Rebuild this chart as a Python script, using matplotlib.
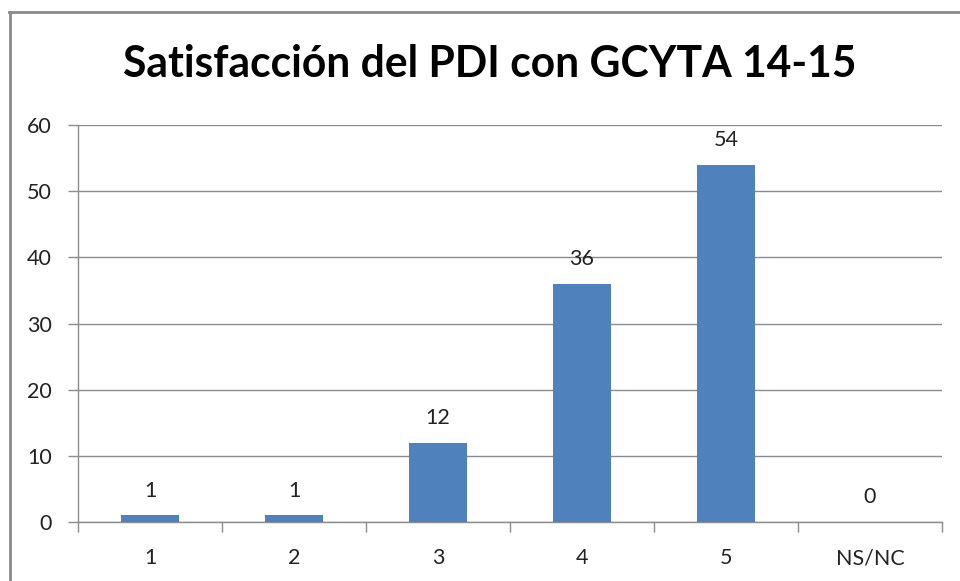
import matplotlib
matplotlib.use("Agg")
import matplotlib.pyplot as plt
from matplotlib.lines import Line2D

categories = ["1", "2", "3", "4", "5", "NS/NC"]
values = [1, 1, 12, 36, 54, 0]
y_ticks = [0, 10, 20, 30, 40, 50, 60]

plt.rcParams["font.family"] = ["Lato", "DejaVu Sans"]

fig = plt.figure(figsize=(9.6, 5.81), dpi=100)
ax = fig.add_axes([78 / 960, 1 - 522 / 581, 864 / 960, 397 / 581])

x = list(range(len(categories)))
bars = ax.bar(x, values, width=0.4, color="#4F81BD", zorder=3)
for xi, v in zip(x, values):
    ax.text(xi, v + 2.2, str(v), ha="center", va="bottom", fontsize=15.5, color="#222222")

ax.set_xlim(-0.5, len(categories) - 0.5)
ax.set_ylim(0, 60)
ax.set_yticks(y_ticks)
ax.yaxis.grid(True, color="#8c8c8c", linewidth=1.0, zorder=0)
ax.set_axisbelow(True)

# category boundaries carry the x tick marks
ax.set_xticks([i - 0.5 for i in range(len(categories) + 1)])
ax.set_xticklabels([])
ax.set_xticks(x, minor=True)
ax.set_xticklabels(categories, minor=True, fontsize=15.5, color="#222222")
ax.tick_params(axis="x", which="major", length=7, color="#8c8c8c", width=1)
ax.tick_params(axis="x", which="minor", length=0, pad=19)
ax.tick_params(axis="y", length=7, color="#8c8c8c", width=1, labelsize=15.5,
               labelcolor="#222222", pad=12)

for side in ("top", "right"):
    ax.spines[side].set_visible(False)
for side in ("left", "bottom"):
    ax.spines[side].set_color("#8c8c8c")
    ax.spines[side].set_linewidth(1.0)

fig.text(490 / 960, 1 - 64 / 581, "Satisfacción del PDI con GCYTA 14-15",
         ha="center", va="center", fontsize=30.7, fontweight="bold", color="black")

# outer chart frame (left and top edges)
fig.add_artist(Line2D([10 / 960, 10 / 960], [0, 1 - 12 / 581],
                      transform=fig.transFigure, color="#8a8a8a", linewidth=2))
fig.add_artist(Line2D([9 / 960, 1], [1 - 12 / 581, 1 - 12 / 581],
                      transform=fig.transFigure, color="#8a8a8a", linewidth=2))

fig.savefig("out.png", dpi=100)
